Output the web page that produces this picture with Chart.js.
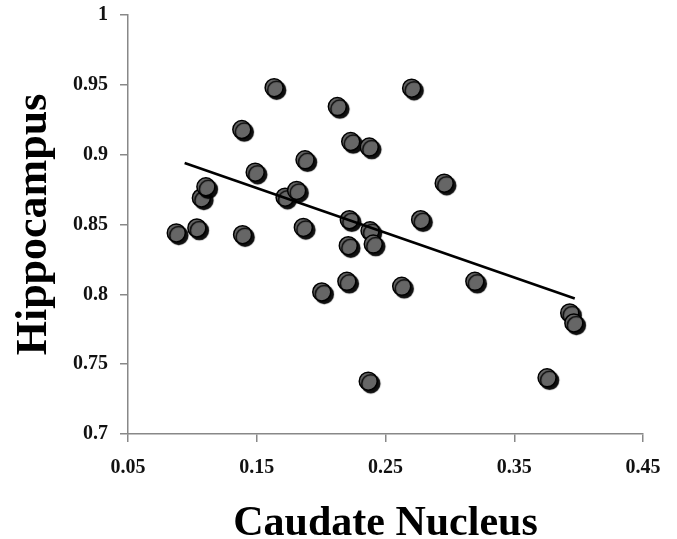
<!DOCTYPE html>
<html>
<head>
<meta charset="utf-8">
<script src="https://cdn.jsdelivr.net/npm/chart.js@4"></script>
<style>
  body { margin: 0; background: #fff; }
  canvas { display: block; }
</style>
</head>
<body>
<canvas id="myChart" width="677" height="539"></canvas>
<script>
// caudate nucleus (x) vs hippocampus (y)
var caudate = [0.0875, 0.1035, 0.107, 0.1105, 0.139, 0.1384, 0.1488, 0.1635, 0.172, 0.181,
  0.1875, 0.1862, 0.2126, 0.2703, 0.223, 0.2374, 0.2956, 0.2219, 0.2773, 0.238,
  0.2405, 0.2211, 0.2005, 0.22, 0.2626, 0.3194, 0.3931, 0.3963, 0.2366, 0.3755];
var hippocampus = [0.844, 0.8475, 0.869, 0.877, 0.8427, 0.918, 0.8875, 0.948, 0.8696, 0.8744,
  0.8963, 0.8479, 0.9344, 0.9476, 0.9094, 0.9054, 0.8796, 0.8534, 0.8534, 0.8455,
  0.836, 0.8348, 0.8017, 0.8093, 0.8057, 0.8093, 0.7867, 0.7795, 0.7378, 0.7402];

// regression line end points
var trendX = [0.094, 0.397];
var trendY = [0.894, 0.797];

var xTicks = [0.05, 0.15, 0.25, 0.35, 0.45];
var yTicks = [0.7, 0.75, 0.8, 0.85, 0.9, 0.95, 1];

var points = caudate.map(function (x, i) { return { x: x, y: hippocampus[i] }; });
var trend = trendX.map(function (x, i) { return { x: x, y: trendY[i] }; });

var serif = "'Liberation Serif', 'Times New Roman', serif";

// dark drop shadow under the dots
var shadowPlugin = {
  id: 'dotShadow',
  beforeDatasetDraw: function (chart, args) {
    if (args.index !== 1) return;
    var ctx = chart.ctx;
    ctx.save();
    ctx.shadowColor = 'rgba(0,0,0,0.95)';
    ctx.shadowOffsetX = 2.5;
    ctx.shadowOffsetY = 2.5;
    ctx.shadowBlur = 1;
  },
  afterDatasetDraw: function (chart, args) {
    if (args.index !== 1) return;
    chart.ctx.restore();
  }
};

var ctx = document.getElementById('myChart').getContext('2d');
var myChart = new Chart(ctx, {
  type: 'scatter',
  data: {
    datasets: [{
      data: trend,
      showLine: true,
      borderColor: '#000',
      borderWidth: 2.5,
      pointRadius: 0,
      fill: false
    }, {
      data: points,
      backgroundColor: '#666666',
      borderColor: '#000',
      borderWidth: 1.5,
      pointRadius: 9
    }]
  },
  plugins: [shadowPlugin],
  options: {
    responsive: false,
    animation: false,
    layout: { padding: { left: 0, top: 15, right: 34, bottom: 0 } },
    plugins: { legend: { display: false }, tooltip: { enabled: false } },
    scales: {
      x: {
        type: 'linear',
        min: 0.05,
        max: 0.45,
        afterBuildTicks: function (scale) {
          scale.ticks = xTicks.map(function (v) { return { value: v }; });
        },
        afterFit: function (scale) { scale.height = 105; },
        border: { color: '#888', width: 1.5 },
        grid: { drawOnChartArea: false, drawTicks: true, tickLength: 8, color: '#888', lineWidth: 1.5 },
        ticks: {
          padding: 14,
          color: '#111',
          font: { family: serif, size: 20, weight: 'bold' },
          callback: function (v) { return String(Number(v.toFixed(2))); }
        },
        title: {
          display: true,
          text: 'Caudate Nucleus',
          color: '#000',
          padding: { top: 0, bottom: 0 },
          font: { family: serif, size: 42, weight: 'bold', lineHeight: 0.72 }
        }
      },
      y: {
        type: 'linear',
        min: 0.7,
        max: 1,
        afterBuildTicks: function (scale) {
          scale.ticks = yTicks.map(function (v) { return { value: v }; });
        },
        afterFit: function (scale) {
          scale.width = 128;
          scale.paddingTop = 0;
          scale.paddingBottom = 0;
        },
        border: { color: '#888', width: 1.5 },
        grid: { drawOnChartArea: false, drawTicks: true, tickLength: 8, color: '#888', lineWidth: 1.5 },
        ticks: {
          padding: 12,
          color: '#111',
          font: { family: serif, size: 20, weight: 'bold' },
          callback: function (v) { return String(Number(v.toFixed(2))); }
        },
        title: {
          display: true,
          text: 'Hippocampus',
          color: '#000',
          padding: { top: 13, bottom: 0 },
          font: { family: serif, size: 44, weight: 'bold', lineHeight: 1 }
        }
      }
    }
  }
});
</script>
</body>
</html>
